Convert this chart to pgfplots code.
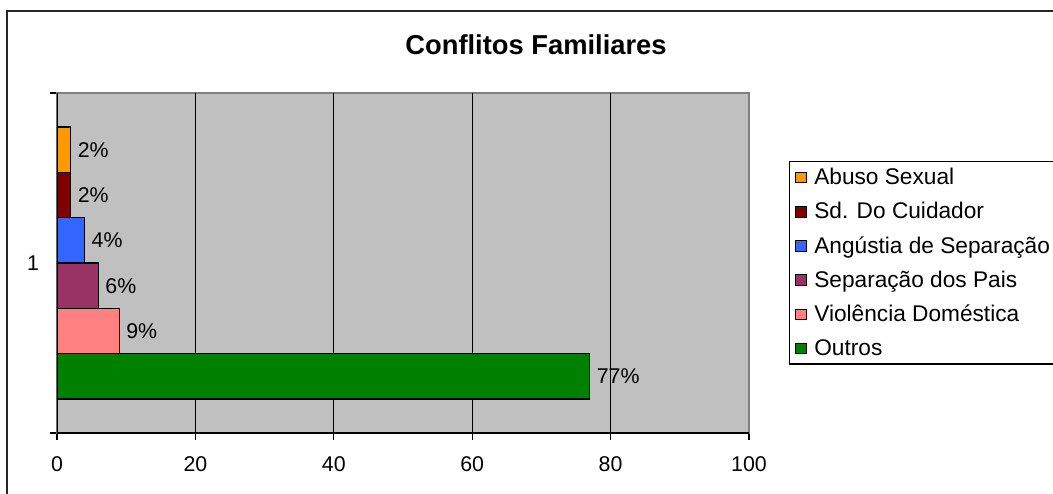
\documentclass[border=0pt]{standalone}
\usepackage{pgfplots}
\pgfplotsset{compat=1.18}
\usepackage{fontspec}
\setmainfont{Liberation Sans}
\definecolor{cAbuso}{HTML}{FF9900}
\definecolor{cSd}{HTML}{800000}
\definecolor{cAng}{HTML}{3366FF}
\definecolor{cSep}{HTML}{993366}
\definecolor{cVio}{HTML}{FF8080}
\definecolor{cOut}{HTML}{008000}
\definecolor{cBg}{HTML}{C0C0C0}
\begin{document}
\begin{tikzpicture}
\useasboundingbox (0pt,0pt) rectangle (789.75pt,-369.75pt);
\draw[line width=1.4pt, black!85] (5.25pt,-380pt) -- (5.25pt,-8.25pt) -- (800pt,-8.25pt);
\node[font=\bfseries\fontsize{20.5}{24}\selectfont] at (402pt,-33.75pt) {Conflitos Familiares};
\begin{axis}[
  at={(42.75pt,-324.75pt)}, anchor=south west,
  scale only axis, width=519pt, height=255pt,
  xmin=0, xmax=100, ymin=0, ymax=7.5,
  axis background/.style={fill=cBg},
  axis line style={draw=gray, line width=0.8pt},
  xtick={0,20,40,60,80,100},
  xtick pos=lower, ytick pos=left,
  tick align=outside,
  major tick length=5pt,
  tick style={black, line width=0.8pt},
  xticklabel style={font=\fontsize{16}{19}\selectfont, yshift=-9pt},
  /pgf/number format/assume math mode=true,
  ytick={0,7.5}, yticklabels={,},
  extra y ticks={3.75}, extra y tick labels={1},
  extra y tick style={major tick length=0pt},
  yticklabel style={font=\fontsize{16}{19}\selectfont, xshift=-10pt},
  extra x ticks={20,40,60,80}, extra x tick labels={},
  extra x tick style={grid=major, major grid style={black, line width=0.8pt}},
  xbar, bar shift=0pt, bar width=1,
  every axis plot/.append style={draw=black, line width=0.8pt},
  point meta=x,
  nodes near coords={\pgfmathprintnumber{\pgfplotspointmeta}\%},
  every node near coord/.append style={font=\fontsize{16}{19}\selectfont, black, xshift=1.5pt},
  legend cell align=left,
  legend image code/.code={\draw[#1, line width=0.6pt] (0pt,-4pt) rectangle (8pt,4pt);},
  legend style={at={(1.0578,0.8)}, anchor=north west, draw=black, line width=0.8pt,
    font=\fontsize{17}{20}\selectfont, row sep=7.8pt, inner xsep=4pt, inner ysep=3pt,
    /tikz/every odd column/.append style={column sep=4pt}},
]
\addplot[fill=cAbuso] coordinates {(2,6.25)};
\addlegendentry{Abuso Sexual}
\addplot[fill=cSd] coordinates {(2,5.25)};
\addlegendentry{Sd. Do Cuidador}
\addplot[fill=cAng] coordinates {(4,4.25)};
\addlegendentry{Angústia de Separação}
\addplot[fill=cSep] coordinates {(6,3.25)};
\addlegendentry{Separação dos Pais}
\addplot[fill=cVio] coordinates {(9,2.25)};
\addlegendentry{Violência Doméstica}
\addplot[fill=cOut] coordinates {(77,1.25)};
\addlegendentry{Outros}
\draw[black, line width=0.8pt] (axis cs:0,7.5) -- (axis cs:0,0) -- (axis cs:100,0);
\end{axis}
\end{tikzpicture}
\end{document}
